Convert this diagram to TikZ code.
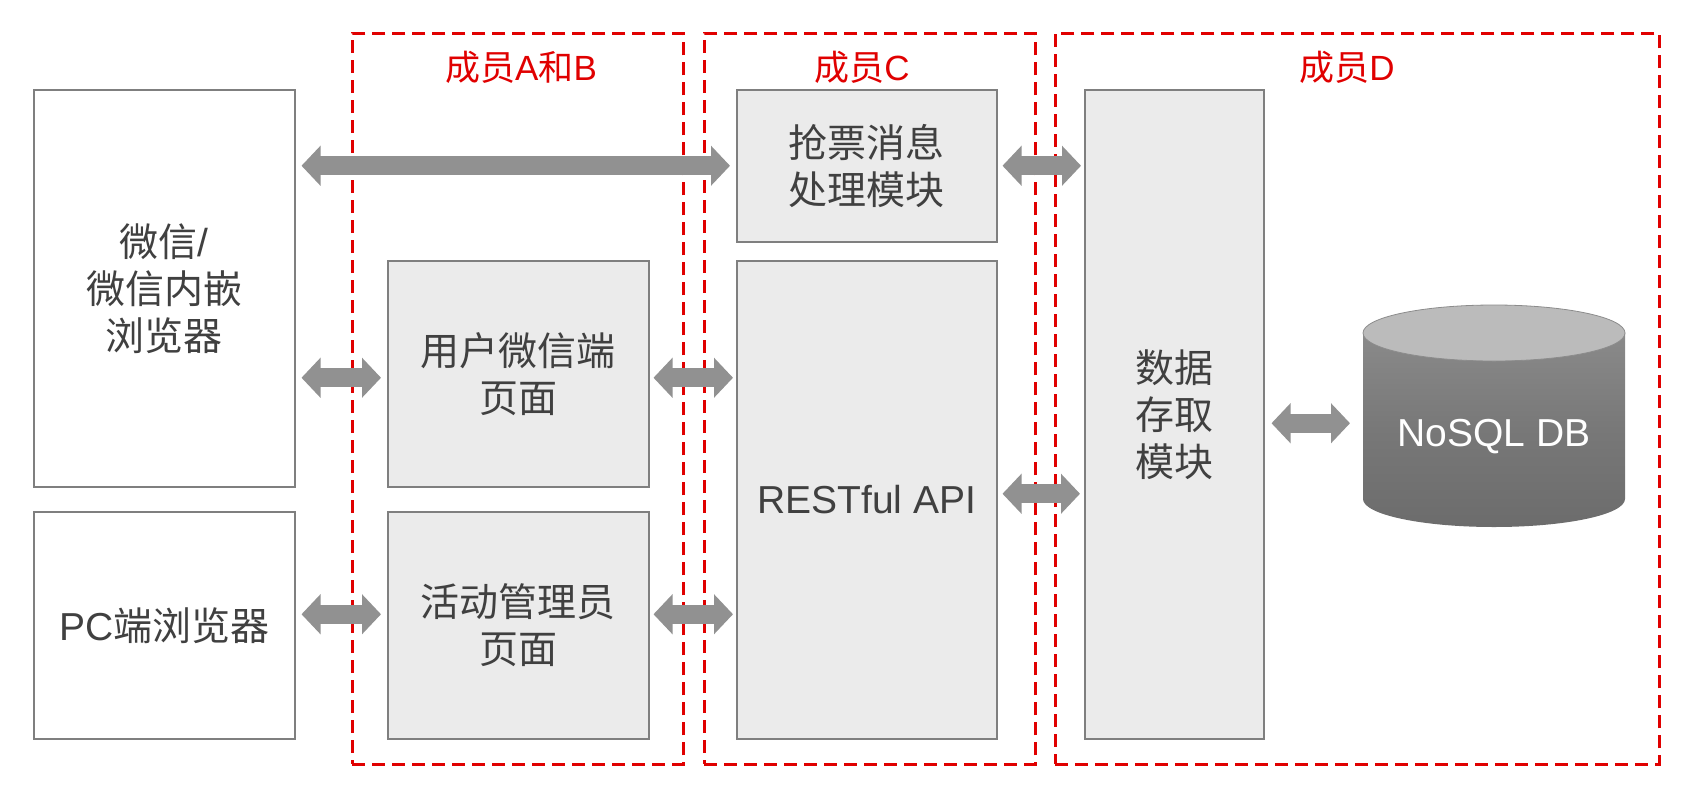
\documentclass[tikz,border=0pt]{standalone}
\usepackage{fontspec}
\setmainfont{Liberation Sans}
\newfontfamily\cjk{Noto Sans CJK SC}
\usetikzlibrary{arrows.meta,shapes.geometric}
\definecolor{txt}{HTML}{404040}
\definecolor{boxfill}{HTML}{EBEBEB}
\definecolor{boxline}{HTML}{7F7F7F}
\definecolor{arr}{HTML}{919191}
\definecolor{redd}{HTML}{E00000}
\definecolor{cyltop}{HTML}{8A8A8A}
\definecolor{cylbot}{HTML}{6C6C6C}
\definecolor{cyllid}{HTML}{BBBBBB}
\tikzset{
  x=1pt,y=-1pt,
  box/.style={draw=boxline,line width=1.5pt,fill=boxfill,anchor=north west,inner sep=0pt,
    text=txt,font=\fontsize{39}{47}\selectfont\cjk,align=center},
  wbox/.style={box,fill=white},
  grp/.style={draw=redd,line width=2.5pt,dash pattern=on 13pt off 7pt,anchor=north west,inner sep=0pt},
  grplabel/.style={text=redd,font=\fontsize{35}{40}\selectfont},
  fat/.style={draw=arr,line width=19pt,{Triangle[width=39pt,length=19pt]}-{Triangle[width=39pt,length=19pt]}},
}
\begin{document}
\begin{tikzpicture}
\useasboundingbox (0,0) rectangle (1690,790);
% groups
\node[grp,minimum width=331pt,minimum height=731pt] (gab) at (351,32) {};
\node[grp,minimum width=331pt,minimum height=731pt] (gc) at (703,32) {};
\node[grp,minimum width=604pt,minimum height=731pt] (gd) at (1054,32) {};
\node[grplabel] (lab) at (521,67) {{\cjk 成员}A{\cjk 和}B};
\node[grplabel] (lc) at (862,67) {{\cjk 成员}C};
\node[grplabel] (ld) at (1347,67) {{\cjk 成员}D};
% boxes
\node[wbox,minimum width=261pt,minimum height=397pt] (wx) at (33,89) {微信\fontspec{Liberation Sans}/\\微信内嵌\\浏览器};
\node[wbox,minimum width=261pt,minimum height=227pt] (pc) at (33,511) {{\fontspec{Liberation Sans}PC}端浏览器};
\node[box,minimum width=261pt,minimum height=226pt] (yh) at (387,260) {用户微信端\\页面};
\node[box,minimum width=261pt,minimum height=227pt] (hd) at (387,511) {活动管理员\\页面};
\node[box,minimum width=260pt,minimum height=152pt] (qp) at (736,89) {抢票消息\\处理模块};
\node[box,minimum width=260pt,minimum height=478pt] (api) at (736,260) {\fontspec{Liberation Sans}RESTful API};
\node[box,minimum width=179pt,minimum height=649pt] (sj) at (1084,89) {数据\\存取\\模块};
% cylinder
\shade[top color=cyltop,bottom color=cylbot,middle color=cylbot!92!white]
  (1363,333) -- (1363,499) arc[start angle=180,end angle=0,x radius=131,y radius=28] -- (1625,333) -- cycle;
\draw[black!45,line width=0.8pt,fill=cyllid] (1494,333) ellipse[x radius=131,y radius=28];
\node[text=white,font=\fontsize{39}{47}\selectfont] (db) at (1494,437) {NoSQL DB};
\coordinate (dbw) at (1363,422);
% arrows
\draw[fat,shorten <=6pt,shorten >=6pt] (wx.east |- qp.west) -- (qp.west);
\draw[fat,shorten <=6pt,shorten >=6pt] ([yshift=-4pt]wx.east |- yh.west) -- ([yshift=-4pt]yh.west);
\draw[fat,shorten <=4pt,shorten >=3pt] ([yshift=-4pt]yh.east) -- ([yshift=-4pt]api.west |- yh.east);
\draw[fat,shorten <=6pt,shorten >=6pt] ([yshift=11pt]pc.east) -- ([yshift=11pt]hd.west);
\draw[fat,shorten <=4pt,shorten >=3pt] ([yshift=11pt]hd.east) -- ([yshift=11pt]api.west |- hd.east);
\draw[fat,shorten <=5pt,shorten >=3pt] (qp.east) -- (sj.west |- qp.east);
\draw[fat,shorten <=5pt,shorten >=4pt] ([yshift=6pt]api.east) -- ([yshift=6pt]sj.west |- api.east);
\draw[fat,shorten <=7pt,shorten >=13pt] ([yshift=-9pt]sj.east) -- ([yshift=-9pt]sj.east -| dbw);
\end{tikzpicture}
\end{document}
